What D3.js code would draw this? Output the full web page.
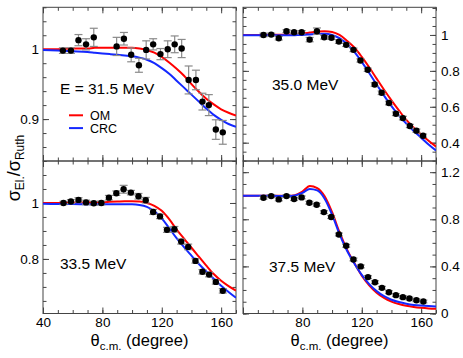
<!DOCTYPE html>
<html lang="en">
<head>
<meta charset="UTF-8">
<title>Elastic / Rutherford ratio</title>
<script src="https://d3js.org/d3.v7.min.js"></script>
<style>
  body { margin: 0; background: #fff; }
  svg { display: block; font-family: "Liberation Sans", Arial, sans-serif; }
  .frame { fill: none; stroke: #444; stroke-width: 1; }
</style>
</head>
<body>
<svg id="chart" width="463" height="358"></svg>
<script>
// measured angles (degree, c.m.) and sigma_El/sigma_Ruth with errors
const angles31 = [53.4, 58.8, 63.9, 69.0, 74.2, 89.6, 94.5, 99.4, 104.6, 109.5, 114.2, 119.1, 124.0, 128.7, 133.4, 138.1, 143.0, 147.4, 151.7, 156.4, 161.1];
const ratio31  = [0.998, 0.998, 1.013, 1.007, 1.017, 1.004, 1.015, 0.992, 0.977, 0.999, 1.007, 0.993, 1.000, 1.007, 1.001, 0.956, 0.956, 0.925, 0.920, 0.885, 0.881];
const err31    = [0.004, 0.004, 0.008, 0.008, 0.013, 0.013, 0.009, 0.010, 0.010, 0.013, 0.008, 0.008, 0.012, 0.012, 0.013, 0.020, 0.014, 0.012, 0.015, 0.014, 0.017];

const angles35 = [53.8, 59.0, 64.1, 69.3, 74.4, 79.5, 84.9, 89.8, 94.7, 99.6, 104.6, 109.5, 114.4, 119.1, 124.0, 128.7, 133.4, 138.3, 143.0, 147.7, 152.4, 156.8, 161.3];
const ratio35  = [1.000, 1.002, 0.982, 1.021, 1.015, 1.015, 0.974, 1.021, 0.987, 0.984, 0.963, 0.945, 0.917, 0.858, 0.806, 0.724, 0.678, 0.621, 0.561, 0.537, 0.493, 0.467, 0.439];
const err35    = [0.010, 0.008, 0.010, 0.008, 0.008, 0.009, 0.012, 0.018, 0.010, 0.009, 0.010, 0.009, 0.010, 0.009, 0.009, 0.010, 0.010, 0.010, 0.010, 0.010, 0.009, 0.009, 0.009];

const angles33 = [53.8, 58.8, 63.9, 69.0, 74.2, 79.3, 84.4, 89.4, 94.3, 99.2, 104.3, 109.2, 114.2, 118.8, 123.5, 128.5, 133.1, 137.8, 142.7, 147.4, 151.9, 156.4, 161.1];
const ratio33  = [1.000, 1.005, 1.011, 1.002, 0.999, 1.000, 1.019, 1.035, 1.049, 1.037, 1.024, 1.010, 0.968, 0.952, 0.904, 0.906, 0.862, 0.843, 0.793, 0.754, 0.744, 0.718, 0.686];
const err33    = [0.006, 0.007, 0.008, 0.008, 0.007, 0.007, 0.008, 0.008, 0.014, 0.008, 0.010, 0.010, 0.009, 0.008, 0.009, 0.010, 0.009, 0.010, 0.008, 0.008, 0.008, 0.008, 0.008];

const angles37 = [53.8, 59.0, 64.1, 69.3, 74.4, 79.5, 84.7, 89.6, 94.5, 99.4, 104.6, 109.5, 114.4, 119.3, 124.2, 128.9, 133.6, 138.3, 143.0, 147.7, 152.1, 156.8, 161.5];
const ratio37  = [0.983, 0.997, 0.969, 0.997, 0.972, 0.986, 0.941, 0.924, 0.861, 0.819, 0.671, 0.575, 0.459, 0.400, 0.309, 0.266, 0.218, 0.181, 0.156, 0.139, 0.127, 0.113, 0.102];
const err37    = [0.012, 0.012, 0.012, 0.012, 0.012, 0.012, 0.012, 0.012, 0.012, 0.012, 0.012, 0.012, 0.012, 0.012, 0.012, 0.012, 0.012, 0.012, 0.012, 0.012, 0.012, 0.012, 0.012];

// calculated curves, read at these angles
const curveAngles = [40, 50, 60, 70, 75, 80, 85, 90, 95, 100, 105, 110, 115, 120, 125, 130, 135, 140, 145, 150, 155, 160, 165, 170];
const om31  = [1.000, 1.000, 1.001, 1.001, 1.002, 1.002, 1.002, 1.002, 1.002, 1.002, 1.001, 0.999, 0.995, 0.989, 0.981, 0.972, 0.962, 0.950, 0.939, 0.929, 0.921, 0.914, 0.909, 0.905];
const crc31 = [0.999, 0.998, 0.997, 0.996, 0.995, 0.994, 0.993, 0.992, 0.991, 0.990, 0.988, 0.985, 0.980, 0.973, 0.965, 0.955, 0.945, 0.935, 0.925, 0.915, 0.906, 0.899, 0.893, 0.889];
const om35  = [1.000, 1.000, 1.001, 1.003, 1.005, 1.008, 1.013, 1.018, 1.021, 1.017, 1.000, 0.968, 0.930, 0.878, 0.820, 0.757, 0.695, 0.636, 0.580, 0.527, 0.484, 0.446, 0.411, 0.378];
const crc35 = [0.999, 0.998, 0.998, 0.998, 0.999, 1.000, 1.003, 1.006, 1.007, 1.000, 0.982, 0.950, 0.906, 0.850, 0.788, 0.724, 0.662, 0.604, 0.552, 0.506, 0.465, 0.428, 0.390, 0.356];
const om33  = [1.000, 1.000, 1.001, 1.002, 1.003, 1.003, 1.004, 1.005, 1.006, 1.006, 1.005, 1.000, 0.990, 0.972, 0.942, 0.905, 0.873, 0.840, 0.808, 0.776, 0.746, 0.722, 0.703, 0.687];
const crc33 = [0.997, 0.996, 0.996, 0.995, 0.995, 0.995, 0.995, 0.995, 0.995, 0.995, 0.993, 0.986, 0.970, 0.945, 0.910, 0.874, 0.842, 0.812, 0.782, 0.755, 0.729, 0.704, 0.682, 0.661];
const om37  = [1.000, 1.000, 1.000, 0.998, 1.005, 1.035, 1.083, 1.065, 0.995, 0.860, 0.690, 0.545, 0.428, 0.322, 0.240, 0.177, 0.132, 0.101, 0.080, 0.065, 0.055, 0.048, 0.043, 0.040];
const crc37 = [1.000, 1.000, 0.999, 0.997, 1.002, 1.025, 1.058, 1.045, 0.975, 0.840, 0.675, 0.535, 0.425, 0.328, 0.250, 0.190, 0.147, 0.117, 0.097, 0.083, 0.073, 0.067, 0.063, 0.060];

const xMajorTicks = [40, 80, 120, 160];
const seriesNames = ["OM", "CRC"];

const FONT = "'Liberation Sans', Arial, sans-serif";
const RED = "#ff0000", BLUE = "#1428ff", ERR = "#8a8a8a";

const colX = [43, 243], panelW = 193;
const rowY = [[7.3, 161], [161, 313.5]];

const panels = [
  { label: "E = 31.5 MeV", angles: angles31, ratio: ratio31, err: err31, om: om31, crc: crc31,
    col: 0, row: 0, yDomain: [0.84, 1.06], yMajor: 0.1, yMinor: 0.02, labelAt: [17, 87], legend: true },
  { label: "35.0 MeV", angles: angles35, ratio: ratio35, err: err35, om: om35, crc: crc35,
    col: 1, row: 0, yDomain: [0.298, 1.154], yMajor: 0.2, yMinor: 0.05, labelAt: [29, 83] },
  { label: "33.5 MeV", angles: angles33, ratio: ratio33, err: err33, om: om33, crc: crc33,
    col: 0, row: 1, yDomain: [0.605, 1.15], yMajor: 0.2, yMinor: 0.05, labelAt: [17, 108] },
  { label: "37.5 MeV", angles: angles37, ratio: ratio37, err: err37, om: om37, crc: crc37,
    col: 1, row: 1, yDomain: [0, 1.295], yMajor: 0.4, yMinor: 0.1, labelAt: [26, 111] }
];

const svg = d3.select("#chart");

function stepTicks(domain, step) {
  const lo = Math.ceil(domain[0] / step - 1e-6), hi = Math.floor(domain[1] / step + 1e-6);
  return d3.range(lo, hi + 1).map(i => +(i * step).toFixed(3));
}

function styleAxis(sel) {
  sel.attr("font-family", FONT).attr("font-size", 13.5).attr("color", "#444");
  sel.select(".domain").remove();
  sel.selectAll("text").attr("fill", "#000");
}

panels.forEach(p => {
  const x0 = colX[p.col], x1 = x0 + panelW;
  const [yTop, yBot] = rowY[p.row];
  const x = d3.scaleLinear().domain([40, 170]).range([x0, x1]);
  const y = d3.scaleLinear().domain(p.yDomain).range([yBot, yTop]);
  const g = svg.append("g");

  const clipId = `clip${p.col}${p.row}`;
  g.append("clipPath").attr("id", clipId)
    .append("rect").attr("x", x0).attr("y", yTop).attr("width", panelW).attr("height", yBot - yTop);

  // x ticks on bottom and top
  const xMinor = stepTicks([40, 170], 10);
  const fmtX = d => (p.row === 1 && !(p.col === 1 && d === 40)) ? d : "";
  g.append("g").attr("transform", `translate(0,${yBot})`)
    .call(d3.axisBottom(x).tickValues(xMinor).tickSize(-3.5).tickFormat("")).call(styleAxis);
  g.append("g").attr("transform", `translate(0,${yBot})`)
    .call(d3.axisBottom(x).tickValues(xMajorTicks).tickSize(-6).tickPadding(4).tickFormat(fmtX)).call(styleAxis);
  g.append("g").attr("transform", `translate(0,${yTop})`)
    .call(d3.axisTop(x).tickValues(xMinor).tickSize(-3.5).tickFormat("")).call(styleAxis);
  g.append("g").attr("transform", `translate(0,${yTop})`)
    .call(d3.axisTop(x).tickValues(xMajorTicks).tickSize(-6).tickFormat("")).call(styleAxis);

  // y ticks on left and right
  const yMinor = stepTicks(p.yDomain, p.yMinor);
  const yMajor = stepTicks(p.yDomain, p.yMajor);
  const fmtY = d => String(+d.toFixed(2));
  g.append("g").attr("transform", `translate(${x0},0)`)
    .call(d3.axisLeft(y).tickValues(yMinor).tickSize(-3.5).tickFormat("")).call(styleAxis);
  g.append("g").attr("transform", `translate(${x0},0)`)
    .call(d3.axisLeft(y).tickValues(yMajor).tickSize(-6).tickPadding(4)
      .tickFormat(p.col === 0 ? fmtY : "")).call(styleAxis);
  g.append("g").attr("transform", `translate(${x1},0)`)
    .call(d3.axisRight(y).tickValues(yMinor).tickSize(-3.5).tickFormat("")).call(styleAxis);
  g.append("g").attr("transform", `translate(${x1},0)`)
    .call(d3.axisRight(y).tickValues(yMajor).tickSize(-6).tickPadding(5)
      .tickFormat(p.col === 1 ? fmtY : "")).call(styleAxis);

  g.append("rect").attr("class", "frame")
    .attr("x", x0).attr("y", yTop).attr("width", panelW).attr("height", yBot - yTop);

  // model curves
  const line = d3.line()
    .x((d, i) => x(curveAngles[i]))
    .y(d => y(d))
    .curve(d3.curveMonotoneX);
  const curves = g.append("g").attr("clip-path", `url(#${clipId})`);
  curves.append("path").datum(p.om).attr("d", line)
    .attr("fill", "none").attr("stroke", RED).attr("stroke-width", 2);
  curves.append("path").datum(p.crc).attr("d", line)
    .attr("fill", "none").attr("stroke", BLUE).attr("stroke-width", 2);

  // data with error bars
  const pts = p.angles.map((a, i) => ({ a, v: p.ratio[i], e: p.err[i] }));
  const eb = g.append("g").attr("stroke", ERR).attr("stroke-width", 1.2);
  eb.selectAll("line.v").data(pts).join("line").attr("class", "v")
    .attr("x1", d => x(d.a)).attr("x2", d => x(d.a))
    .attr("y1", d => y(d.v - d.e)).attr("y2", d => y(d.v + d.e));
  eb.selectAll("line.t").data(pts).join("line").attr("class", "t")
    .attr("x1", d => x(d.a) - 4).attr("x2", d => x(d.a) + 4)
    .attr("y1", d => y(d.v + d.e)).attr("y2", d => y(d.v + d.e));
  eb.selectAll("line.b").data(pts).join("line").attr("class", "b")
    .attr("x1", d => x(d.a) - 4).attr("x2", d => x(d.a) + 4)
    .attr("y1", d => y(d.v - d.e)).attr("y2", d => y(d.v - d.e));
  g.append("g").selectAll("circle").data(pts).join("circle")
    .attr("cx", d => x(d.a)).attr("cy", d => y(d.v)).attr("r", 3.2).attr("fill", "#000");

  // energy label
  g.append("text").attr("x", x0 + p.labelAt[0]).attr("y", yTop + p.labelAt[1])
    .attr("font-family", FONT).attr("font-size", 15.5).text(p.label);

  if (p.legend) {
    const lg = g.append("g").attr("font-family", FONT).attr("font-size", 12.5);
    [RED, BLUE].forEach((c, i) => {
      const ly = 115.3 + i * 12.8;
      lg.append("line").attr("x1", 69).attr("x2", 83).attr("y1", ly).attr("y2", ly)
        .attr("stroke", c).attr("stroke-width", 2);
      lg.append("text").attr("x", 90).attr("y", ly + 4.5).text(seriesNames[i]);
    });
  }
});

// axis titles
const yTitle = svg.append("text")
  .attr("transform", "translate(20,168) rotate(-90)")
  .attr("text-anchor", "middle").attr("font-family", FONT).attr("font-size", 18);
yTitle.append("tspan").text("σ");
yTitle.append("tspan").attr("font-size", 12).attr("dy", 4).text("El.");
yTitle.append("tspan").attr("dy", -4).text("/σ");
yTitle.append("tspan").attr("font-size", 12).attr("dy", 4).text("Ruth");

colX.forEach(cx => {
  const t = svg.append("text").attr("x", cx + panelW / 2).attr("y", 345.5)
    .attr("text-anchor", "middle").attr("font-family", FONT).attr("font-size", 16.5);
  t.append("tspan").text("θ");
  t.append("tspan").attr("font-size", 11.5).attr("dy", 4.5).text("c.m.");
  t.append("tspan").attr("dy", -4.5).text(" (degree)");
});
</script>
</body>
</html>
